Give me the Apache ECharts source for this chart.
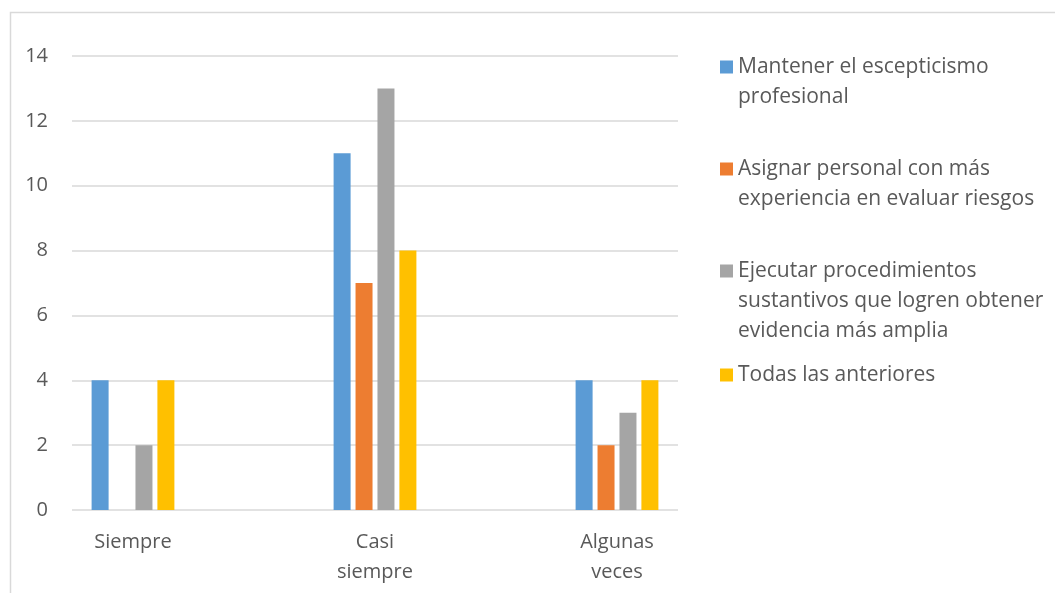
<!DOCTYPE html>
<html>
<head>
<meta charset="utf-8">
<script src="https://cdn.jsdelivr.net/npm/echarts@6/dist/echarts.min.js"></script>
<style>
html,body{margin:0;padding:0;background:#fff;}
#chart{width:1055px;height:593px;}
</style>
</head>
<body>
<div id="chart"></div>
<script>
const categories = ['Siempre', 'Casi siempre', 'Algunas veces'];
const seriesNames = [
  'Mantener el escepticismo profesional',
  'Asignar personal con más experiencia en evaluar riesgos',
  'Ejecutar procedimientos sustantivos que logren obtener evidencia más amplia',
  'Todas las anteriores'
];
const mantener = [4, 11, 4];
const asignar = [0, 7, 2];
const ejecutar = [2, 13, 3];
const todas = [4, 8, 4];
const yTicks = [0, 2, 4, 6, 8, 10, 12, 14];

const colors = ['#5B9BD5', '#ED7D31', '#A5A5A5', '#FFC000'];
const values = [mantener, asignar, ejecutar, todas];
const wrapped = {};
wrapped[seriesNames[0]] = 'Mantener el escepticismo\nprofesional';
wrapped[seriesNames[1]] = 'Asignar personal con más\nexperiencia en evaluar riesgos';
wrapped[seriesNames[2]] = 'Ejecutar procedimientos\nsustantivos que logren obtener\nevidencia más amplia';
wrapped[seriesNames[3]] = 'Todas las anteriores';

const font = 'Open Sans';
const txt = '#595959';
const legendCenters = [67, 169, 271, 375];
const LH = 30;

const legends = seriesNames.map((n, i) => {
  const lines = wrapped[n].split('\n').length;
  return {
    data: [n],
    orient: 'vertical',
    left: 720,
    top: legendCenters[i] - (2 * lines - 1) * LH / 2,
    padding: 0,
    itemWidth: 13,
    itemHeight: 13,
    icon: 'rect',
    selectedMode: false,
    formatter: name => '\u00a0\n'.repeat(lines - 1) + wrapped[name],
    textStyle: {fontFamily: font, fontSize: 21, color: txt, lineHeight: LH}
  };
});

const chart = echarts.init(document.getElementById('chart'), null, {renderer: 'canvas'});
chart.setOption({
  animation: false,
  backgroundColor: '#fff',
  color: colors,
  graphic: [{
    type: 'rect', left: 8, top: 10, silent: true, z: -10,
    shape: {width: 1100, height: 700},
    style: {fill: 'none', stroke: '#D9D9D9', lineWidth: 1.5}
  }],
  legend: legends,
  grid: [
    {left: 72, right: 377, top: 56, bottom: 83},
    {left: 12, width: 726, top: 56, bottom: 83}
  ],
  xAxis: [
    {gridIndex: 0, type: 'category', data: categories, show: false},
    {
      gridIndex: 1, type: 'category', data: categories,
      axisLine: {show: false}, axisTick: {show: false},
      axisLabel: {
        fontFamily: font, fontSize: 20, color: txt, lineHeight: 30, margin: 17,
        formatter: v => v.replace(' ', '\n')
      }
    }
  ],
  yAxis: [
    {
      gridIndex: 0, type: 'value', min: yTicks[0], max: yTicks[yTicks.length - 1],
      interval: yTicks[1] - yTicks[0],
      axisLine: {show: false}, axisTick: {show: false},
      axisLabel: {fontFamily: font, fontSize: 20, color: txt, margin: 24},
      splitLine: {lineStyle: {color: '#D9D9D9', width: 1.5}}
    },
    {
      gridIndex: 1, type: 'value', min: yTicks[0], max: yTicks[yTicks.length - 1],
      interval: yTicks[1] - yTicks[0], show: false, splitLine: {show: false}
    }
  ],
  series: seriesNames.map((n, i) => ({
    name: n,
    type: 'bar',
    xAxisIndex: 1,
    yAxisIndex: 1,
    data: values[i],
    barWidth: 17,
    barGap: '29%',
    itemStyle: {color: colors[i]}
  }))
});
</script>
</body>
</html>
